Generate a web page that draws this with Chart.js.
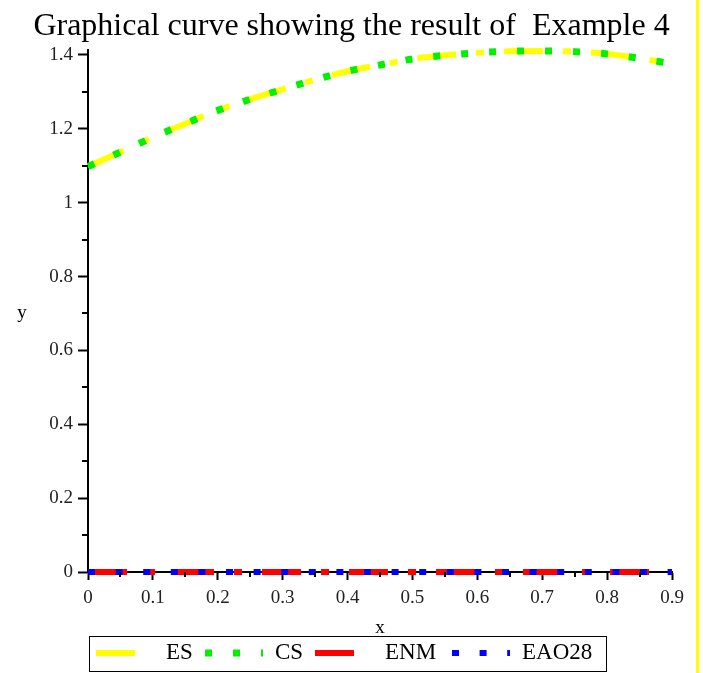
<!DOCTYPE html>
<html>
<head>
<meta charset="utf-8">
<script src="https://cdn.jsdelivr.net/npm/chart.js@4.4.1/dist/chart.umd.min.js"></script>
<style>
  html, body { margin: 0; padding: 0; background: #fff; }
  #wrap { position: relative; width: 703px; height: 673px; }
  #edge { position: absolute; left: 696px; top: 0; width: 3px; height: 673px; background: #ffff00; }
</style>
</head>
<body>
<div id="wrap">
  <canvas id="chart" width="703" height="673"></canvas>
  <div id="edge"></div>
</div>
<script>
// values
const xValues = [0, 0.05, 0.1, 0.15, 0.2, 0.25, 0.3, 0.35, 0.4, 0.45, 0.5, 0.55, 0.6, 0.65, 0.7, 0.75, 0.8, 0.85, 0.9];
const esValues = [1.098, 1.137, 1.177, 1.214, 1.250, 1.280, 1.307, 1.333, 1.356, 1.373, 1.389, 1.399, 1.406, 1.410, 1.411, 1.409, 1.403, 1.391, 1.376];
const csValues = [1.098, 1.137, 1.177, 1.214, 1.250, 1.280, 1.307, 1.333, 1.356, 1.373, 1.389, 1.399, 1.406, 1.410, 1.411, 1.409, 1.403, 1.391, 1.376];
const enmValues = [0, 0, 0, 0, 0, 0, 0, 0, 0, 0, 0, 0, 0, 0, 0, 0, 0, 0, 0];
const eaoValues = [0, 0, 0, 0, 0, 0, 0, 0, 0, 0, 0, 0, 0, 0, 0, 0, 0, 0, 0];
const seriesNames = ["ES", "CS", "ENM", "EAO28"];

const xTickValues = [0, 0.1, 0.2, 0.3, 0.4, 0.5, 0.6, 0.7, 0.8, 0.9];
const xMinorTicks = [0.05, 0.15, 0.25, 0.35, 0.45, 0.55, 0.65, 0.75, 0.85];
const yTickValues = [0, 0.2, 0.4, 0.6, 0.8, 1, 1.2, 1.4];
const yMinorTicks = [0.1, 0.3, 0.5, 0.7, 0.9, 1.1, 1.3];

const titleText = "Graphical curve showing the result of  Example 4";
const serif = "'Liberation Serif', 'DejaVu Serif', serif";

function pts(ys) {
    return xValues.map((x, i) => ({ x: x, y: ys[i] }));
}

function fmt(v) {
    return String(Number(v.toFixed(2)));
}

// title, minor ticks, the "y" label and the boxed legend
const extras = {
    id: "extras",
    afterDraw(chart) {
        const ctx = chart.ctx;
        const xs = chart.scales.x, ys = chart.scales.y;
        const area = chart.chartArea;
        ctx.save();
        ctx.fillStyle = "#000";
        ctx.font = "32px " + serif;
        ctx.textAlign = "center";
        ctx.textBaseline = "alphabetic";
        ctx.fillText(titleText, chart.width / 2, 35);

        ctx.strokeStyle = "#000";
        ctx.lineWidth = 2;
        ctx.beginPath();
        yMinorTicks.forEach(v => {
            const py = Math.round(ys.getPixelForValue(v));
            ctx.moveTo(area.left - 6, py);
            ctx.lineTo(area.left, py);
        });
        xMinorTicks.forEach(v => {
            const px = Math.round(xs.getPixelForValue(v));
            ctx.moveTo(px, area.bottom);
            ctx.lineTo(px, area.bottom + 5);
        });
        ctx.stroke();

        ctx.font = "19px " + serif;
        ctx.textBaseline = "middle";
        ctx.fillText("y", 22, (area.top + area.bottom) / 2 + 2);

        // legend
        ctx.lineWidth = 1;
        ctx.strokeRect(89.5, 636.5, 517, 35);
        const starts = [96, 205, 315, 452];
        const ly = 653;
        ctx.font = "23px " + serif;
        ctx.textAlign = "left";
        chart.data.datasets.forEach((ds, i) => {
            ctx.save();
            ctx.strokeStyle = ds.borderColor;
            ctx.lineWidth = ds.borderWidth;
            ctx.setLineDash(ds.borderDash);
            ctx.beginPath();
            ctx.moveTo(starts[i], ly);
            ctx.lineTo(starts[i] + 58, ly);
            ctx.stroke();
            ctx.restore();
            ctx.fillText(ds.label, starts[i] + 70, ly);
        });
        ctx.restore();
    }
};

new Chart(document.getElementById("chart"), {
    type: "line",
    data: {
        datasets: [
            { label: seriesNames[0], data: pts(esValues), borderColor: "#ffff00", borderWidth: 6, borderDash: [39, 20, 8, 20], order: 4 },
            { label: seriesNames[1], data: pts(csValues), borderColor: "#00f000", borderWidth: 7, borderDash: [7, 21], order: 3 },
            { label: seriesNames[2], data: pts(enmValues), borderColor: "#ff0000", borderWidth: 6, borderDash: [39, 20, 8, 20], order: 2 },
            { label: seriesNames[3], data: pts(eaoValues), borderColor: "#0000ff", borderWidth: 6, borderDash: [7, 20.6], order: 1 }
        ].map(d => Object.assign(d, { pointRadius: 0, fill: false, clip: false, cubicInterpolationMode: "monotone" }))
    },
    options: {
        responsive: false,
        animation: false,
        layout: { padding: { left: 0, right: 31, top: 50, bottom: 35 } },
        plugins: {
            legend: { display: false },
            tooltip: { enabled: false },
            title: { display: false }
        },
        scales: {
            x: {
                type: "linear",
                min: 0,
                max: 0.9,
                afterBuildTicks: s => { s.ticks = xTickValues.map(v => ({ value: v })); },
                afterFit: s => { s.height = 66; },
                border: { color: "#000", width: 2 },
                grid: { drawOnChartArea: false, color: "#000", tickLength: 8, tickWidth: 2 },
                ticks: { color: "#222", font: { family: serif, size: 19 }, padding: 7, maxRotation: 0, callback: fmt },
                title: { display: true, text: "x", color: "#000", font: { family: serif, size: 19, lineHeight: 1 }, padding: { top: 0, bottom: 0 } }
            },
            y: {
                type: "linear",
                min: 0,
                max: 1.4135,
                afterBuildTicks: s => { s.ticks = yTickValues.map(v => ({ value: v })); },
                afterFit: s => { s.width = 88; },
                border: { color: "#000", width: 2 },
                grid: { drawOnChartArea: false, color: "#000", tickLength: 10, tickWidth: 2 },
                ticks: { color: "#222", font: { family: serif, size: 19 }, padding: 5, callback: fmt }
            }
        }
    },
    plugins: [extras]
});
</script>
</body>
</html>
